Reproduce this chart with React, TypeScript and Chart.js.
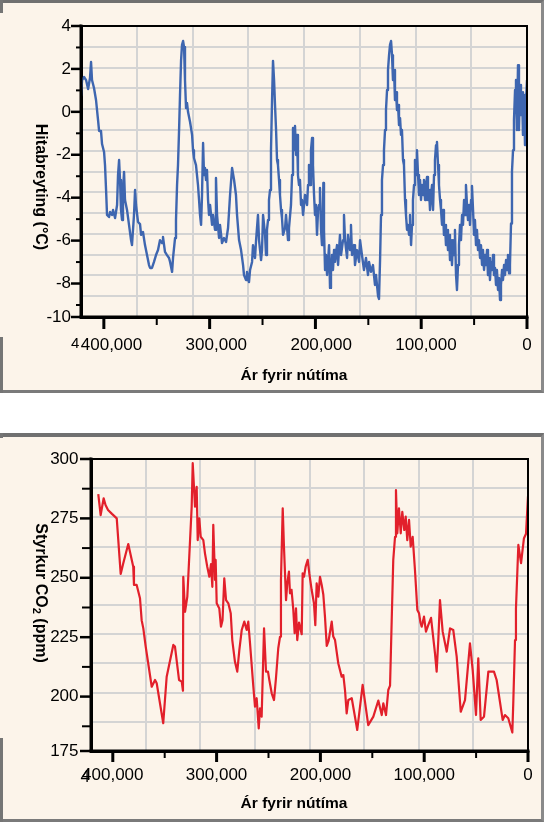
import { useEffect, useRef } from "react";
import { Chart, registerables } from "chart.js";

Chart.register(...registerables);

// Vostok ice core temperature change, [age in thousand years, °C]
const temperatureSeries: [number, number][] = [
  [421.6, 0.63], [420.6, 1.4], [418.7, 1.55], [416.8, 1.4], [414.9, 0.97], [413.1, 1.5], [412.1, 2.27], [411.2, 1.4],
  [409.3, 1.02], [407.4, 0.44], [405.5, -0.52], [404.5, -1.05], [402.7, -1.05], [401.7, -1.68], [399.8, -2.06],
  [398.9, -2.69], [397.9, -3.89], [397.0, -5.09], [395.1, -5.19], [394.1, -4.95], [392.3, -5.09], [391.3, -4.85],
  [389.4, -5.24], [387.5, -4.61], [386.6, -3.17], [385.6, -2.45], [384.7, -3.41], [383.8, -4.85], [382.8, -5.33],
  [381.9, -3.89], [380.9, -3.02], [380.0, -4.37], [378.1, -4.85], [376.2, -5.57], [374.3, -6.3], [373.4, -6.54],
  [371.5, -5.09], [370.5, -3.89], [369.6, -4.61], [367.7, -5.43], [365.8, -5.53], [364.8, -6.05], [363.0, -5.91],
  [361.1, -6.54], [359.2, -7.02], [357.3, -7.5], [356.3, -7.64], [354.5, -7.64], [352.6, -7.35], [350.7, -7.02],
  [348.8, -6.78], [346.9, -6.3], [345.0, -6.44], [344.1, -6.15], [342.2, -6.87], [340.3, -7.02], [338.4, -7.16],
  [337.4, -7.35], [335.5, -7.83], [334.6, -7.16], [332.7, -6.2], [331.8, -5.33], [330.8, -3.65], [329.9, -2.69],
  [328.9, -1.0], [328.0, 0.68], [327.0, 2.36], [326.1, 3.09], [325.1, 3.28], [324.2, 2.99], [323.3, 1.4],
  [322.3, 0.05], [321.4, 0.3], [320.4, -0.14], [318.5, -0.62], [316.6, -1.24], [315.7, -1.97], [314.8, -2.35],
  [312.9, -2.69], [311.0, -3.65], [310.0, -4.37], [309.1, -5.09], [308.1, -5.57], [307.2, -4.13], [306.2, -1.63],
  [305.3, -3.17], [304.4, -2.83], [303.4, -3.41], [302.5, -2.93], [301.5, -4.37], [300.6, -5.09], [299.6, -4.61],
  [297.7, -5.57], [296.8, -5.09], [294.9, -5.81], [294.0, -3.31], [293.0, -5.09], [291.1, -6.2], [290.2, -5.57],
  [288.3, -6.44], [286.4, -6.2], [284.5, -6.39], [282.6, -5.72], [280.7, -4.13], [278.8, -2.83], [276.9, -3.41],
  [275.1, -4.13], [274.1, -5.09], [272.2, -6.3], [270.3, -6.78], [268.4, -7.5], [267.5, -7.98], [265.6, -8.22],
  [264.7, -7.83], [262.8, -8.32], [261.8, -7.74], [259.9, -7.35], [259.0, -6.54], [257.1, -7.16], [256.1, -6.3],
  [254.3, -5.09], [253.3, -6.3], [251.4, -7.26], [250.5, -6.78], [249.5, -5.09], [247.6, -6.05], [246.7, -7.02],
  [245.8, -5.81], [244.8, -5.33], [243.9, -4.37], [242.9, -3.89], [242.0, -1.97], [241.0, 0.44], [240.1, 2.32],
  [239.1, 1.4], [238.2, 0.2], [237.2, -1.0], [236.3, -2.45], [235.4, -2.69], [234.4, -3.41], [233.5, -4.13],
  [232.5, -4.85], [231.6, -5.24], [230.6, -6.05], [228.7, -5.72], [227.8, -5.09], [225.9, -6.3], [225.0, -5.72],
  [223.1, -4.61], [222.1, -3.17], [221.2, -0.91], [220.2, -1.97], [219.3, -0.81], [218.3, -2.21], [217.4, -1.24],
  [216.5, -3.17], [215.5, -3.65], [214.6, -3.41], [213.6, -4.61], [212.7, -4.37], [211.7, -5.09], [209.8, -4.13],
  [207.9, -4.61], [207.0, -3.65], [206.1, -2.69], [205.1, -3.65], [204.2, -1.97], [203.2, -1.39], [202.3, -2.69],
  [201.3, -4.13], [200.4, -5.09], [199.4, -4.61], [198.5, -6.05], [197.5, -4.85], [196.6, -4.61], [195.7, -3.79],
  [194.7, -5.81], [193.8, -6.54], [193.3, -6.54], [192.5, -3.55], [191.9, -5.81], [190.9, -7.74], [190.0, -7.02],
  [189.0, -7.98], [188.1, -7.35], [187.1, -6.54], [186.2, -8.6], [185.3, -7.74], [184.3, -7.02], [183.4, -7.74],
  [182.4, -6.78], [181.5, -7.35], [179.6, -6.54], [178.6, -7.5], [176.8, -6.05], [175.8, -7.02], [173.9, -6.3],
  [173.0, -5.09], [172.0, -6.3], [170.1, -7.16], [169.2, -6.05], [167.3, -6.78], [166.4, -5.57], [165.4, -7.02],
  [163.5, -6.54], [162.6, -7.5], [160.7, -6.78], [158.8, -7.35], [157.8, -6.3], [156.0, -7.02], [154.1, -7.74],
  [152.2, -7.16], [150.3, -7.98], [149.3, -7.35], [147.5, -7.83], [145.6, -7.5], [143.7, -8.46], [142.7, -7.98],
  [140.8, -8.99], [139.9, -9.13], [138.9, -7.26], [138.0, -5.09], [137.1, -3.41], [136.1, -2.69], [135.2, -1.97],
  [134.2, -1.0], [133.3, -0.04], [132.3, 0.92], [131.4, 1.88], [130.4, 2.6], [129.5, 3.09], [128.5, 3.28],
  [127.6, 2.6], [126.7, 1.4], [125.7, 1.88], [124.8, 0.44], [123.8, 0.82], [122.9, -0.04], [121.9, 0.2],
  [121.0, -0.76], [120.0, -0.43], [119.1, -1.24], [118.2, -1.0], [117.2, -2.45], [116.3, -2.69], [115.3, -4.37],
  [114.4, -5.09], [113.4, -5.81], [112.5, -5.57], [111.5, -6.05], [110.6, -5.09], [109.6, -6.54], [108.7, -5.57],
  [107.8, -4.37], [106.8, -3.65], [105.9, -2.45], [104.9, -3.17], [104.0, -1.97], [103.0, -3.17], [102.1, -4.13],
  [101.1, -3.41], [100.2, -4.37], [99.2, -3.65], [98.3, -4.13], [97.4, -3.41], [96.4, -4.37], [95.5, -3.65],
  [94.5, -3.26], [93.6, -4.37], [92.6, -3.89], [91.7, -4.85], [90.7, -4.13], [89.8, -3.65], [88.8, -4.85],
  [87.9, -3.17], [87.0, -2.45], [86.0, -1.73], [85.1, -1.58], [84.1, -2.69], [83.2, -3.65], [82.2, -4.37],
  [81.3, -4.85], [80.3, -5.57], [79.4, -4.85], [78.5, -6.05], [77.5, -5.57], [76.6, -6.54], [75.6, -5.81],
  [74.7, -6.78], [73.7, -6.05], [72.8, -7.26], [71.8, -6.3], [70.9, -7.5], [69.9, -6.3], [69.0, -7.02],
  [68.1, -5.81], [67.1, -7.98], [66.2, -8.7], [65.2, -7.5], [64.3, -6.54], [63.3, -5.57], [62.4, -6.3],
  [61.4, -5.09], [60.5, -5.57], [59.5, -4.37], [58.6, -5.09], [57.7, -3.65], [56.7, -4.61], [55.8, -5.33],
  [54.8, -4.61], [53.9, -5.57], [52.9, -4.37], [52.0, -3.7], [51.0, -4.85], [50.1, -6.05], [49.2, -5.33],
  [48.2, -6.54], [47.3, -5.81], [46.3, -6.78], [45.4, -6.3], [44.4, -7.16], [43.5, -6.54], [42.5, -7.5],
  [41.6, -6.78], [40.6, -7.74], [39.7, -7.02], [38.8, -7.5], [37.8, -6.78], [36.9, -7.98], [35.9, -7.16],
  [35.0, -8.22], [34.0, -7.35], [33.1, -7.74], [32.1, -7.02], [31.2, -7.98], [30.2, -7.64], [29.3, -8.46],
  [28.4, -7.74], [27.4, -8.7], [26.5, -8.12], [25.5, -9.18], [24.6, -8.46], [23.6, -7.74], [22.7, -8.22],
  [21.7, -7.5], [20.8, -7.98], [19.8, -7.26], [18.9, -7.74], [18.0, -7.02], [17.0, -7.9], [16.1, -7.5],
  [15.1, -5.5], [14.2, -3.0], [13.2, -1.97], [12.3, -0.52], [11.3, 0.92], [10.4, 1.4], [9.5, -1.0], [8.5, 2.12],
  [7.6, -1.0], [6.6, 1.16], [5.7, -0.28], [4.7, 0.82], [3.8, -1.24], [2.8, 0.68], [1.9, -1.73], [0.9, 0.44],
  [0.0, 1.4],
];

// Vostok ice core CO2 concentration, [age in thousand years, ppm]
const co2Series: [number, number][] = [
  [414.0, 285.0], [411.7, 276.0], [408.8, 283.2], [407.0, 280.3], [404.6, 278.2], [400.8, 276.5], [396.2, 274.6],
  [392.4, 250.8], [389.9, 255.4], [385.1, 263.6], [380.3, 253.9], [379.6, 246.1], [377.0, 246.1], [373.8, 240.4],
  [372.2, 231.0], [370.6, 227.5], [368.3, 219.7], [362.5, 202.5], [359.3, 205.4], [357.7, 204.0], [351.4, 186.9],
  [348.1, 206.8], [341.7, 220.4], [340.1, 219.7], [336.2, 205.4], [333.6, 204.7], [332.4, 200.8], [332.1, 249.6],
  [330.4, 234.6], [328.2, 241.1], [324.0, 279.6], [323.0, 298.2], [321.8, 288.1], [320.8, 279.6], [319.2, 288.1],
  [318.2, 265.3], [316.7, 274.6], [315.3, 266.7], [312.8, 265.3], [311.2, 259.6], [309.0, 253.9], [307.0, 249.6],
  [305.4, 255.0], [304.1, 245.3], [303.2, 271.8], [301.5, 248.2], [300.9, 256.8], [299.9, 238.2], [297.4, 236.0],
  [295.8, 228.2], [294.3, 231.0], [292.6, 248.9], [290.9, 239.6], [288.7, 238.2], [286.4, 234.0], [284.9, 222.5],
  [282.3, 213.2], [280.1, 209.0], [278.1, 218.2], [275.8, 226.8], [273.3, 230.4], [271.0, 226.8], [269.5, 230.4],
  [267.8, 221.1], [264.6, 202.5], [263.0, 194.0], [261.4, 197.6], [259.4, 184.7], [258.2, 193.3], [256.6, 189.7],
  [254.3, 227.5], [252.4, 209.0], [250.5, 209.0], [249.2, 205.4], [246.9, 199.7], [244.7, 196.8], [242.8, 206.2],
  [240.6, 219.0], [238.9, 223.9], [238.0, 248.2], [236.3, 278.9], [235.1, 262.5], [234.1, 251.1], [233.1, 239.6],
  [231.9, 246.8], [230.3, 251.8], [229.3, 242.5], [227.8, 244.0], [226.1, 235.4], [224.8, 225.4], [223.5, 236.1],
  [222.3, 222.5], [220.6, 230.0], [218.0, 225.0], [217.1, 251.1], [215.8, 249.6], [214.2, 253.9], [212.2, 256.8],
  [210.7, 251.1], [208.4, 243.9], [206.2, 238.2], [204.9, 228.9], [203.6, 246.8], [202.0, 241.1], [200.4, 249.6],
  [198.7, 246.0], [197.2, 242.0], [195.6, 232.5], [193.9, 220.0], [192.2, 222.0], [189.1, 230.4], [187.6, 224.0],
  [185.9, 222.5], [182.8, 212.6], [179.5, 206.8], [177.9, 207.5], [176.3, 201.1], [174.7, 191.1], [173.1, 196.8],
  [169.8, 197.6], [164.5, 184.0], [159.3, 203.3], [153.9, 186.1], [149.0, 189.7], [144.2, 196.6], [140.9, 190.4],
  [139.4, 195.4], [136.8, 190.4], [134.6, 201.1], [132.9, 203.0], [131.3, 231.1], [129.8, 256.8], [128.1, 266.7],
  [127.2, 286.7], [125.9, 268.2], [124.3, 278.9], [122.6, 268.2], [121.1, 277.4], [119.2, 269.6], [117.8, 275.3],
  [116.3, 265.3], [114.6, 273.9], [113.0, 262.5], [111.1, 266.7], [108.9, 252.5], [106.6, 235.4], [105.0, 234.0],
  [103.6, 230.0], [102.4, 228.2], [100.2, 232.5], [98.3, 226.1], [96.1, 228.9], [93.4, 232.0], [89.6, 216.8],
  [88.0, 209.0], [86.4, 222.5], [84.8, 239.6], [82.2, 226.1], [78.3, 217.5], [75.1, 227.5], [72.0, 226.8],
  [68.7, 215.4], [64.8, 191.8], [60.7, 196.8], [55.9, 221.1], [53.3, 209.7], [50.1, 190.4], [47.9, 214.7],
  [45.6, 188.3], [42.4, 189.7], [38.2, 209.0], [32.8, 209.0], [30.2, 205.4], [24.4, 188.3], [22.2, 190.4],
  [19.0, 189.0], [15.1, 182.9], [14.2, 195.4], [12.5, 222.5], [11.6, 236.0], [9.3, 263.2], [6.7, 255.4],
  [3.9, 266.1], [1.9, 268.0], [0.0, 284.0],
];

// Axis labelling
const ageLabelValues = [400000, 300000, 200000, 100000];
const ageEndLabel = "0";
const tempMajorTicks = [4, 2, 0, -2, -4, -6, -8];
const tempMinorTicks = [3, 1, -1, -3, -5, -7, -9];
const tempBottomLabel = "-10";
const co2MajorTicks = [300, 275, 250, 225, 200];
const co2MinorTicks = [287.5, 262.5, 237.5, 212.5, 187.5];
const co2BottomLabel = "175";

const X_TITLE = "Ár fyrir nútíma";
const FONT_FAMILY = '"Liberation Sans", Arial, Helvetica, sans-serif';
const PANEL_BG = "#FCF4EA";
const GRID_COLOR = "#D4D4D4";
const INK = "#000000";

type TextRun = { text: string; size: number; shift?: number };

interface PanelSpec {
  width: number;
  height: number;
  plotLeft: number;
  plotTop: number;
  plotRight: number;
  plotBottom: number;
  series: [number, number][];
  color: string;
  lineWidth: number;
  ageMax: number;
  labelAgeMin: number;
  labelAgeMax: number;
  yMin: number;
  yMax: number;
  yStep: number;
  tickYMin: number;
  tickYMax: number;
  majorY: number[];
  minorY: number[];
  bottomLabel: string;
  yMajorLen: number;
  yMinorLen: number;
  xMajorLen: number;
  xMinorLen: number;
  yLabelPad: number;
  xLabelPad: number;
  yTitle: TextRun[];
  yTitleX: number;
  yTitleY: number;
  xTitleX: number;
  xTitleY: number;
  ghost: { x: number; y: number; size: number };
}

const temperaturePanel: PanelSpec = {
  width: 544,
  height: 393,
  plotLeft: 81,
  plotTop: 26,
  plotRight: 527,
  plotBottom: 317,
  series: temperatureSeries,
  color: "#3E66B0",
  lineWidth: 2.4,
  ageMax: 421600,
  labelAgeMin: 3657,
  labelAgeMax: 429094,
  yMin: -10,
  yMax: 4,
  yStep: 1,
  tickYMin: -9.56,
  tickYMax: 4,
  majorY: tempMajorTicks,
  minorY: tempMinorTicks,
  bottomLabel: tempBottomLabel,
  yMajorLen: 10,
  yMinorLen: 5,
  xMajorLen: 12,
  xMinorLen: 8,
  yLabelPad: 10,
  xLabelPad: 18.6,
  yTitle: [{ text: "Hitabreyting (°C)", size: 16 }],
  yTitleX: 35.5,
  yTitleY: 187,
  xTitleX: 294,
  xTitleY: 380,
  ghost: { x: 71, y: 348.3, size: 15 },
};

const co2Panel: PanelSpec = {
  width: 544,
  height: 389,
  plotLeft: 91,
  plotTop: 26,
  plotRight: 528,
  plotBottom: 318,
  series: co2Series,
  color: "#E2202B",
  lineWidth: 2.2,
  ageMax: 421000,
  labelAgeMin: 0,
  labelAgeMax: 421000,
  yMin: 175,
  yMax: 300,
  yStep: 12.5,
  tickYMin: 177.1,
  tickYMax: 300,
  majorY: co2MajorTicks,
  minorY: co2MinorTicks,
  bottomLabel: co2BottomLabel,
  yMajorLen: 11,
  yMinorLen: 9,
  xMajorLen: 11,
  xMinorLen: 7,
  yLabelPad: 12.5,
  xLabelPad: 14.6,
  yTitle: [
    { text: "Styrkur CO", size: 16 },
    { text: "2", size: 11, shift: 3 },
    { text: " (ppm)", size: 16 },
  ],
  yTitleX: 35.5,
  yTitleY: 160,
  xTitleX: 294,
  xTitleY: 375,
  ghost: { x: 80.5, y: 348.7, size: 17 },
};

function drawRotatedRuns(ctx: CanvasRenderingContext2D, runs: TextRun[], x: number, y: number) {
  ctx.save();
  ctx.translate(x, y);
  ctx.rotate(Math.PI / 2);
  ctx.textAlign = "left";
  ctx.textBaseline = "alphabetic";
  ctx.fillStyle = INK;
  let total = 0;
  for (const r of runs) {
    ctx.font = `bold ${r.size}px ${FONT_FAMILY}`;
    total += ctx.measureText(r.text).width;
  }
  let cx = -total / 2;
  for (const r of runs) {
    ctx.font = `bold ${r.size}px ${FONT_FAMILY}`;
    ctx.fillText(r.text, cx, r.shift ?? 0);
    cx += ctx.measureText(r.text).width;
  }
  ctx.restore();
}

function strokeLine(ctx: CanvasRenderingContext2D, x1: number, y1: number, x2: number, y2: number, w: number) {
  ctx.lineWidth = w;
  ctx.beginPath();
  ctx.moveTo(x1, y1);
  ctx.lineTo(x2, y2);
  ctx.stroke();
}

// Plot frame, tick marks and axis titles for one panel
function panelDecorations(spec: PanelSpec) {
  return {
    id: "panelDecor",
    afterDraw(chart: Chart) {
      const { ctx, chartArea: a, scales } = chart;
      const xs = scales.x;
      const yt = scales.yt;
      ctx.save();
      ctx.setLineDash([]);
      ctx.globalAlpha = 1;
      ctx.globalCompositeOperation = "source-over";
      ctx.strokeStyle = INK;
      ctx.lineCap = "square";

      // frame: thin top and right, heavy left and bottom axes
      strokeLine(ctx, a.left, a.top, a.right, a.top, 2);
      strokeLine(ctx, a.right, a.top, a.right, a.bottom, 2);
      strokeLine(ctx, a.left, a.top, a.left, a.bottom, 3);
      strokeLine(ctx, a.left, a.bottom, a.right, a.bottom, 3);

      ctx.lineCap = "butt";
      for (let v = 0; v <= 400000; v += 50000) {
        const major = v % 100000 === 0;
        const px = xs.getPixelForValue(v);
        strokeLine(ctx, px, a.bottom, px, a.bottom + (major ? spec.xMajorLen : spec.xMinorLen), major ? 3 : 2);
      }
      [...spec.majorY, spec.tickYMin].forEach((v) => {
        const py = yt.getPixelForValue(v);
        strokeLine(ctx, a.left - spec.yMajorLen, py, a.left, py, 2.5);
      });
      spec.minorY.forEach((v) => {
        const py = yt.getPixelForValue(v);
        strokeLine(ctx, a.left - spec.yMinorLen, py, a.left, py, 2);
      });

      ctx.fillStyle = INK;
      ctx.font = `bold 15.5px ${FONT_FAMILY}`;
      ctx.textAlign = "center";
      ctx.textBaseline = "alphabetic";
      ctx.fillText(X_TITLE, spec.xTitleX, spec.xTitleY);

      ctx.font = `${spec.ghost.size}px ${FONT_FAMILY}`;
      ctx.textAlign = "left";
      ctx.fillText("4", spec.ghost.x, spec.ghost.y);
      ctx.restore();

      drawRotatedRuns(ctx, spec.yTitle, spec.yTitleX, spec.yTitleY);
    },
  };
}

// Keep tick labels from pushing the plot area inwards; the plot box is fixed by layout padding
function noLabelPadding(s: any) {
  s.paddingLeft = 0;
  s.paddingRight = 0;
  s.paddingTop = 0;
  s.paddingBottom = 0;
}

function buildConfig(spec: PanelSpec): any {
  const tickFont = { family: FONT_FAMILY, size: 17 };
  const ageLabel = (v: number) => (v === 0 || v === spec.labelAgeMin ? ageEndLabel : v.toLocaleString("en-US"));
  return {
    type: "line",
    data: {
      datasets: [
        {
          data: spec.series.map(([age, v]) => ({ x: age * 1000, y: v })),
          borderColor: spec.color,
          borderWidth: spec.lineWidth,
          borderJoinStyle: "round",
          pointRadius: 0,
          fill: false,
          tension: 0,
          xAxisID: "x",
          yAxisID: "y",
        },
      ],
    },
    options: {
      responsive: false,
      animation: false,
      devicePixelRatio: 1,
      events: [],
      layout: {
        padding: { left: 0, top: spec.plotTop, right: spec.width - spec.plotRight, bottom: 0 },
      },
      plugins: { legend: { display: false }, tooltip: { enabled: false }, title: { display: false } },
      scales: {
        x: {
          type: "linear",
          position: "bottom",
          reverse: true,
          min: 0,
          max: spec.ageMax,
          weight: 0,
          ticks: { display: false, stepSize: 50000, includeBounds: false },
          grid: { color: GRID_COLOR, lineWidth: 2, drawTicks: false },
          border: { display: true, color: INK, width: 3 },
          afterFit: (s: any) => {
            s.height = 0;
            noLabelPadding(s);
          },
        },
        xl: {
          type: "linear",
          position: "bottom",
          reverse: true,
          min: spec.labelAgeMin,
          max: spec.labelAgeMax,
          weight: 1,
          grid: { display: false, drawTicks: false, tickLength: 0 },
          border: { display: false },
          afterBuildTicks: (s: any) => {
            s.ticks = [...ageLabelValues, spec.labelAgeMin].map((value) => ({ value }));
          },
          ticks: {
            font: tickFont,
            color: INK,
            padding: spec.xLabelPad,
            maxRotation: 0,
            autoSkip: false,
            callback: (v: number) => ageLabel(v),
          },
          afterFit: (s: any) => {
            s.height = spec.height - spec.plotBottom;
            noLabelPadding(s);
          },
        },
        y: {
          type: "linear",
          position: "left",
          min: spec.yMin,
          max: spec.yMax,
          weight: 0,
          ticks: { display: false, stepSize: spec.yStep },
          grid: { color: GRID_COLOR, lineWidth: 2, drawTicks: false },
          border: { display: true, color: INK, width: 3 },
          afterFit: (s: any) => {
            s.width = 0;
            noLabelPadding(s);
          },
        },
        yt: {
          type: "linear",
          position: "left",
          min: spec.tickYMin,
          max: spec.tickYMax,
          weight: 1,
          grid: { display: false, drawTicks: false, tickLength: 0 },
          border: { display: false },
          afterBuildTicks: (s: any) => {
            s.ticks = [...spec.majorY, spec.tickYMin].map((value) => ({ value }));
          },
          ticks: {
            font: tickFont,
            color: INK,
            padding: spec.yLabelPad,
            autoSkip: false,
            callback: (v: number) => (v === spec.tickYMin ? spec.bottomLabel : String(v)),
          },
          afterFit: (s: any) => {
            s.width = spec.plotLeft;
            noLabelPadding(s);
          },
        },
      },
    },
    plugins: [panelDecorations(spec)],
  };
}

interface FrameStyle {
  top: number;
  leftPieces: [number, number][];
  borderTop: number;
}

function ChartPanel({ spec, frame }: { spec: PanelSpec; frame: FrameStyle }) {
  const canvasRef = useRef<HTMLCanvasElement>(null);

  useEffect(() => {
    if (!canvasRef.current) return;
    const chart = new Chart(canvasRef.current, buildConfig(spec));
    return () => chart.destroy();
  }, [spec]);

  return (
    <div style={{ position: "absolute", left: 0, top: frame.top, width: spec.width, height: spec.height }}>
      <div
        style={{
          position: "absolute",
          inset: 0,
          boxSizing: "border-box",
          background: PANEL_BG,
          borderTop: `${frame.borderTop}px solid #707070`,
          borderRight: "3px solid #8A8A8A",
          borderBottom: "3px solid #7A7A7A",
        }}
      />
      {frame.leftPieces.map(([t, h], i) => (
        <div
          key={i}
          style={{ position: "absolute", left: 0, top: t, width: 3, height: h, background: "#757575" }}
        />
      ))}
      <canvas
        ref={canvasRef}
        width={spec.width}
        height={spec.height}
        style={{ position: "absolute", left: 0, top: 0, width: spec.width, height: spec.height }}
      />
    </div>
  );
}

const topFrame: FrameStyle = { top: 0, leftPieces: [[0, 13], [337, 56]], borderTop: 3 };
const bottomFrame: FrameStyle = { top: 433, leftPieces: [[0, 5], [305, 84]], borderTop: 4 };

export default function App() {
  return (
    <div style={{ position: "absolute", left: 0, top: 0, width: 544, height: 822, background: "#fff" }}>
      <ChartPanel spec={temperaturePanel} frame={topFrame} />
      <ChartPanel spec={co2Panel} frame={bottomFrame} />
    </div>
  );
}
